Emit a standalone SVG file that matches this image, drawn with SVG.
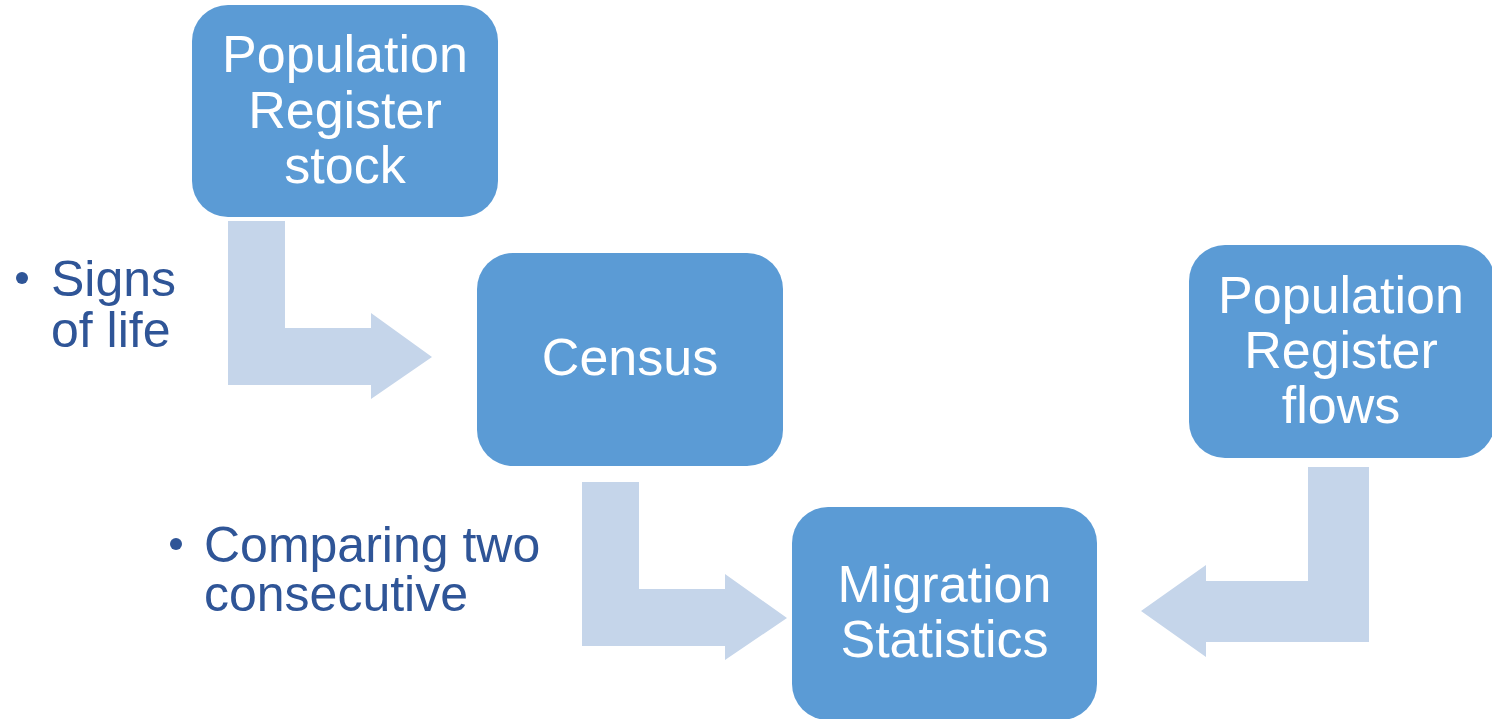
<svg xmlns="http://www.w3.org/2000/svg" width="1492" height="719" viewBox="0 0 1492 719">
<style>
.box{fill:#5B9BD5}
.bt{fill:#FFFFFF;font-family:"Liberation Sans",Arial,sans-serif;font-size:52px;text-anchor:middle}
.arr{fill:#C5D5EA}
.note{fill:#2F5597;font-family:"Liberation Sans",Arial,sans-serif;font-size:50px}
</style>
<rect width="1492" height="719" fill="#FFFFFF"/>
<g id="connectors">
<path class="arr" d="M228,221 H285 V328 H371 V313 L432,357 L371,399 V385 H228 Z"/>
<path class="arr" d="M582,482 H639 V589 H725 V574 L787,618 L725,660 V646 H582 Z"/>
<path class="arr" d="M1369,467 H1308 V581 H1206 V565 L1141,611 L1206,657 V642 H1369 Z"/>
</g>
<g id="node-pr-stock">
<rect class="box" x="192" y="5" width="306" height="212" rx="36"/>
<text class="bt" x="345" y="72">Population</text>
<text class="bt" x="345" y="128">Register</text>
<text class="bt" x="345" y="183">stock</text>
</g>
<g id="node-census">
<rect class="box" x="477" y="253" width="306" height="213" rx="36"/>
<text class="bt" x="630" y="375">Census</text>
</g>
<g id="node-migration">
<rect class="box" x="792" y="507" width="305" height="213" rx="36"/>
<text class="bt" x="944.5" y="602">Migration</text>
<text class="bt" x="944.5" y="657">Statistics</text>
</g>
<g id="node-pr-flows">
<rect class="box" x="1189" y="245" width="306" height="213" rx="36"/>
<text class="bt" x="1341" y="313">Population</text>
<text class="bt" x="1341" y="368">Register</text>
<text class="bt" x="1341" y="423">flows</text>
</g>
<g id="note-signs">
<circle cx="22" cy="278" r="6" fill="#2F5597"/>
<text class="note" x="51" y="296">Signs</text>
<text class="note" x="51" y="347">of life</text>
</g>
<g id="note-comparing">
<circle cx="176" cy="544" r="6" fill="#2F5597"/>
<text class="note" x="204" y="562">Comparing two</text>
<text class="note" x="204" y="611">consecutive</text>
</g>
</svg>
